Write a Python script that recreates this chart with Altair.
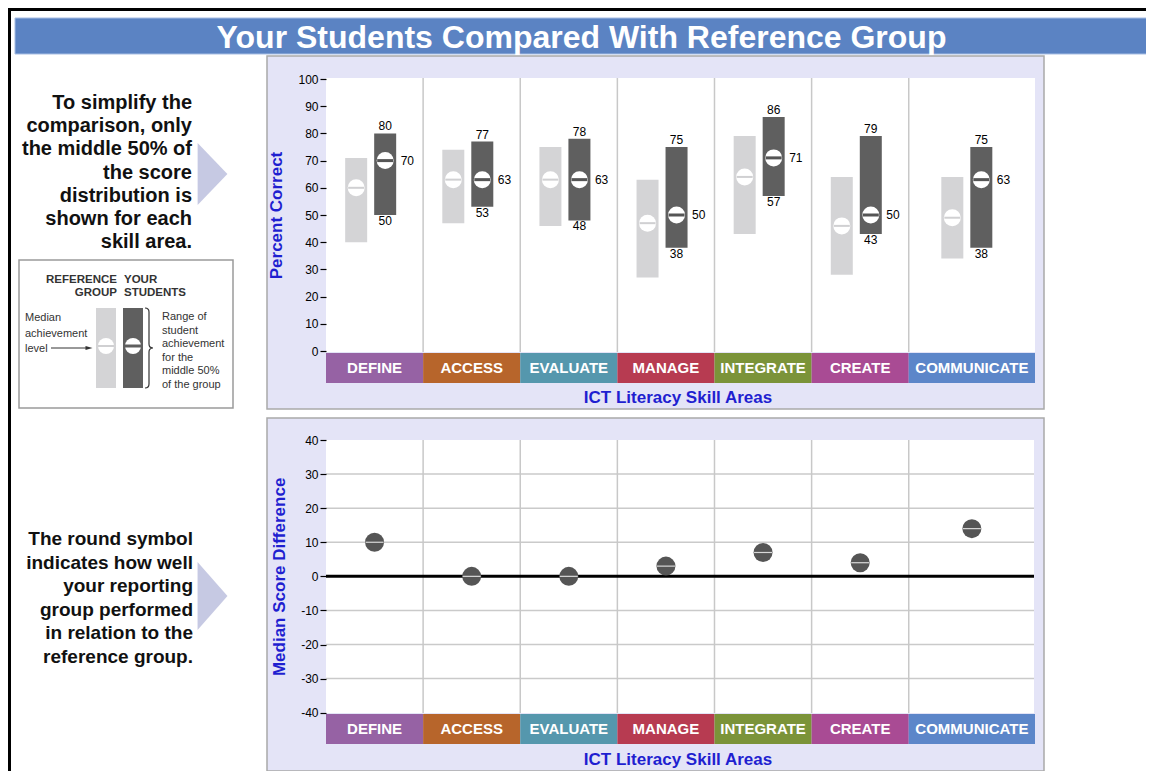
import altair as alt
import pandas as pd

# ---------------- data ----------------
CATEGORIES = ["DEFINE", "ACCESS", "EVALUATE", "MANAGE", "INTEGRATE", "CREATE", "COMMUNICATE"]
REF_LOW = [40, 47, 46, 27, 43, 28, 34]
REF_HIGH = [71, 74, 75, 63, 79, 64, 64]
REF_MEDIAN = [60, 63, 63, 47, 64, 46, 49]
YOUR_LOW = [50, 53, 48, 38, 57, 43, 38]
YOUR_HIGH = [80, 77, 78, 75, 86, 79, 75]
YOUR_MEDIAN = [70, 63, 63, 50, 71, 50, 63]
MEDIAN_DIFF = [10, 0, 0, 3, 7, 4, 14]
TOP_TICKS = list(range(0, 101, 10))
DIFF_TICKS = list(range(-40, 41, 10))
GRID_LINES = [-30, -20, -10, 10, 20, 30]
STRIP_COLORS = ["#9662a4", "#b7652b", "#5597ad", "#b73b51", "#7b9339", "#a94b94", "#5c86c9"]

# ---------------- layout (not data) ----------------
BAND_WIDTHS = [1, 1, 1, 1, 1, 1, 1.3]
FONT = "Liberation Sans"
BLUE = "#1f1fd0"


def px(v):
    return v - 8


starts, s = [], 0.0
for w in BAND_WIDTHS:
    starts.append(s)
    s += w
ends = [a + w for a, w in zip(starts, BAND_WIDTHS)]

df = pd.DataFrame({
    "category": CATEGORIES,
    "idx": list(range(len(CATEGORIES))),
    "start": starts,
    "end": ends,
    "mid": [a + 0.5 * w for a, w in zip(starts, BAND_WIDTHS)],
    "pair": [a + 0.46 * w for a, w in zip(starts, BAND_WIDTHS)],
    "ref_low": REF_LOW, "ref_high": REF_HIGH, "ref_median": REF_MEDIAN,
    "your_low": YOUR_LOW, "your_high": YOUR_HIGH, "your_median": YOUR_MEDIAN,
    "diff": MEDIAN_DIFF,
})

XS = alt.Scale(domain=[0, s], range=[px(326), px(1035)], nice=False, zero=False)
YT = alt.Scale(domain=[0, 100], range=[px(351), px(79)], nice=False, zero=False)
YB = alt.Scale(domain=[-40, 40], range=[px(712.7), px(440)], nice=False, zero=False)
CS = alt.Scale(domain=CATEGORIES, range=STRIP_COLORS)


def X(f):
    return alt.X(f, type="quantitative", scale=XS, axis=None)


def YTo(f, axis=None):
    return alt.Y(f, type="quantitative", scale=YT, axis=axis)


def YBo(f, axis=None):
    return alt.Y(f, type="quantitative", scale=YB, axis=axis)


one = alt.Data(values=[{"k": 1}])


def rect(x1, y1, x2, y2, **kw):
    return alt.Chart(one).mark_rect(**kw).encode(
        x=alt.value(px(x1)), x2=alt.value(px(x2)), y=alt.value(px(y1)), y2=alt.value(px(y2)))


def text(x, y, s_, **kw):
    kw.setdefault("font", FONT)
    return alt.Chart(one).mark_text(**kw).encode(
        x=alt.value(px(x)), y=alt.value(px(y)), text=alt.value(s_))


def hline(x1, x2, y, **kw):
    return alt.Chart(one).mark_rule(**kw).encode(
        x=alt.value(px(x1)), x2=alt.value(px(x2)), y=alt.value(px(y)))


def vline(x, y1, y2, **kw):
    return alt.Chart(one).mark_rule(**kw).encode(
        x=alt.value(px(x)), y=alt.value(px(y1)), y2=alt.value(px(y2)))


def sym(x, y, shape, size, **kw):
    return alt.Chart(one).mark_point(shape=shape, size=size, opacity=1, **kw).encode(
        x=alt.value(px(x)), y=alt.value(px(y)))


TRI_TOP = "M-0.48,-1L0.48,0L-0.48,1Z"
TRI_BOT = "M-0.44,-1L0.44,0L-0.44,1Z"
BRACE = "M-0.1,-1Q0,-1 0,-0.9L0,-0.1Q0,0 0.1,0Q0,0 0,0.1L0,0.9Q0,1 -0.1,1"
ARROW = "M-1,-0.55L1,0L-1,0.55Z"

deco = [
    vline(9.5, 8, 779, color="black", strokeWidth=3),
    hline(8, 1154, 9.5, color="black", strokeWidth=3),
    rect(15, 18, 1148, 54, fill="#5b83c3", stroke="#a7bde3", strokeWidth=1),
    text(581.5, 48, "Your Students Compared With Reference Group", fontSize=32,
         fontWeight="bold", color="white", align="center", baseline="alphabetic"),
    rect(267, 56, 1044, 409, fill="#e4e4f7", stroke="#a9a9a9", strokeWidth=1.5),
    rect(326, 78, 1035, 352, fill="white"),
    rect(267, 418, 1044, 771, fill="#e4e4f7", stroke="#a9a9a9", strokeWidth=1.5),
    rect(326, 440, 1034, 713, fill="white"),
    text(192, 109, "To simplify the\ncomparison, only\nthe middle 50% of\nthe score\ndistribution is\nshown for each\nskill area.",
         lineBreak="\n", lineHeight=23.2, align="right", baseline="alphabetic",
         fontSize=20, fontWeight="bold", color="#111111"),
    sym(212.5, 174, TRI_TOP, 3844, filled=True, color="#c6c9e3", strokeWidth=0),
    text(193, 545, "The round symbol\nindicates how well\nyour reporting\ngroup performed\nin relation to the\nreference group.",
         lineBreak="\n", lineHeight=23.6, align="right", baseline="alphabetic",
         fontSize=19, fontWeight="bold", color="#111111"),
    sym(212.5, 596, TRI_BOT, 4624, filled=True, color="#c6c9e3", strokeWidth=0),
    # explanation box
    rect(19, 260, 233, 408, fill="white", stroke="#9a9a9a", strokeWidth=1.5),
    text(117, 283, "REFERENCE\nGROUP", lineBreak="\n", lineHeight=13, align="right",
         baseline="alphabetic", fontSize=11.5, fontWeight="bold", color="#333333"),
    text(124, 283, "YOUR\nSTUDENTS", lineBreak="\n", lineHeight=13, align="left",
         baseline="alphabetic", fontSize=11.5, fontWeight="bold", color="#333333"),
    rect(96, 308, 116, 388, fill="#d4d4d6"),
    rect(123, 308, 143, 388, fill="#5f5f5f"),
    sym(106, 346, "circle", 256, filled=True, color="white", strokeWidth=0),
    hline(98, 114, 346, color="#d0d0d2", strokeWidth=2),
    sym(133, 346, "circle", 256, filled=True, color="white", strokeWidth=0),
    hline(125, 141, 346, color="#5f5f5f", strokeWidth=3),
    text(25, 321, "Median\nachievement\nlevel", lineBreak="\n", lineHeight=15.5, align="left",
         baseline="alphabetic", fontSize=11, color="#333333"),
    hline(51, 88, 348, color="#333333", strokeWidth=1),
    sym(89, 348, ARROW, 49, filled=True, color="#333333", strokeWidth=0),
    sym(149, 348, BRACE, 6400, filled=False, color="#333333", strokeWidth=1.2),
    text(162, 320, "Range of\nstudent\nachievement\nfor the\nmiddle 50%\nof the group",
         lineBreak="\n", lineHeight=13.5, align="left", baseline="alphabetic",
         fontSize=11, color="#333333"),
    # axis titles for category strips
    text(678, 398, "ICT Literacy Skill Areas", fontSize=17, fontWeight="bold",
         color=BLUE, align="center", baseline="middle"),
    text(678, 760, "ICT Literacy Skill Areas", fontSize=17, fontWeight="bold",
         color=BLUE, align="center", baseline="middle"),
]

axis_common = dict(
    orient="left", domain=False, grid=False, ticks=True, tickSize=6, tickColor="#000000",
    tickWidth=1.2, labelFont=FONT, labelFontSize=12, labelColor="#000000", labelPadding=2,
    titleFont=FONT, titleFontSize=17, titleFontWeight="bold", titleColor=BLUE,
    titlePadding=12, zindex=1, labelOverlap=False, labelFlush=False, offset=-px(326),
)

sep_data = alt.Chart(df).transform_filter("datum.idx > 0")

# ---------------- top panel ----------------
top = [
    sep_data.mark_rule(color="#c8c8c8", strokeWidth=1.5).encode(
        x=X("start"), y=alt.value(px(78)), y2=alt.value(px(352))),
    alt.Chart(df).mark_rect().encode(
        x=X("start"), x2=alt.X2("end"), y=alt.value(px(353)), y2=alt.value(px(383)),
        color=alt.Color("category:N", scale=CS, legend=None)),
    alt.Chart(df).mark_text(font=FONT, fontSize=15, fontWeight="bold", color="white",
                            baseline="middle").encode(
        x=X("mid"), y=alt.value(px(368)), text="category:N"),
    alt.Chart(df).mark_rect(color="#d4d4d6", xOffset=-25.5, x2Offset=-3.5).encode(
        x=X("pair"), x2=alt.X2("pair"),
        y=YTo("ref_low", alt.Axis(values=TOP_TICKS, title="Percent Correct", **axis_common)),
        y2=alt.Y2("ref_high")),
    alt.Chart(df).mark_rect(color="#5f5f5f", xOffset=3.5, x2Offset=25.5).encode(
        x=X("pair"), x2=alt.X2("pair"), y=YTo("your_low"), y2=alt.Y2("your_high")),
    alt.Chart(df).mark_circle(size=289, color="white", opacity=1, xOffset=-14.5).encode(
        x=X("pair"), y=YTo("ref_median")),
    alt.Chart(df).mark_rule(color="#d0d0d2", strokeWidth=2, xOffset=-22.5, x2Offset=-6.5).encode(
        x=X("pair"), x2=alt.X2("pair"), y=YTo("ref_median")),
    alt.Chart(df).mark_circle(size=289, color="white", opacity=1, xOffset=14.5).encode(
        x=X("pair"), y=YTo("your_median")),
    alt.Chart(df).mark_rule(color="#555555", strokeWidth=3, xOffset=6.5, x2Offset=22.5).encode(
        x=X("pair"), x2=alt.X2("pair"), y=YTo("your_median")),
    alt.Chart(df).mark_text(font=FONT, fontSize=12, color="black", dx=14.5, baseline="bottom").encode(
        x=X("pair"), y=YTo("your_high"), text="your_high:Q"),
    alt.Chart(df).mark_text(font=FONT, fontSize=12, color="black", dx=14.5, dy=1, baseline="top").encode(
        x=X("pair"), y=YTo("your_low"), text="your_low:Q"),
    alt.Chart(df).mark_text(font=FONT, fontSize=12, color="black", dx=30, align="left",
                            baseline="middle").encode(
        x=X("pair"), y=YTo("your_median"), text="your_median:Q"),
]

# ---------------- bottom panel ----------------
bottom = [
    alt.Chart(pd.DataFrame({"v": GRID_LINES})).mark_rule(color="#cacaca", strokeWidth=1.5).encode(
        x=alt.value(px(326)), x2=alt.value(px(1034)), y=YBo("v")),
    sep_data.mark_rule(color="#c8c8c8", strokeWidth=1.5).encode(
        x=X("start"), y=alt.value(px(440)), y2=alt.value(px(713))),
    alt.Chart(pd.DataFrame({"zero": [0]})).mark_rule(color="black", strokeWidth=3).encode(
        x=alt.value(px(326)), x2=alt.value(px(1034)),
        y=YBo("zero", alt.Axis(values=DIFF_TICKS, title="Median Score Difference",
                               labelExpr="'' + datum.value", **axis_common))),
    alt.Chart(df).mark_rect().encode(
        x=X("start"), x2=alt.X2("end"), y=alt.value(px(714)), y2=alt.value(px(744)),
        color=alt.Color("category:N", scale=CS, legend=None)),
    alt.Chart(df).mark_text(font=FONT, fontSize=15, fontWeight="bold", color="white",
                            baseline="middle").encode(
        x=X("mid"), y=alt.value(px(729)), text="category:N"),
    alt.Chart(df).mark_circle(size=361, color="#555555", opacity=1).encode(
        x=X("mid"), y=YBo("diff")),
    alt.Chart(df).mark_rule(color="#d8d8d8", strokeWidth=1.2, xOffset=-9, x2Offset=9).encode(
        x=X("mid"), x2=alt.X2("mid"), y=YBo("diff")),
]

chart = alt.layer(*deco, *top, *bottom).resolve_scale(y="independent").properties(
    width=1138, height=763, padding=0,
    autosize=alt.AutoSizeParams(type="none"),
).configure_view(strokeWidth=0)

chart.save("out.html", embed_options={"renderer": "svg", "actions": False})
